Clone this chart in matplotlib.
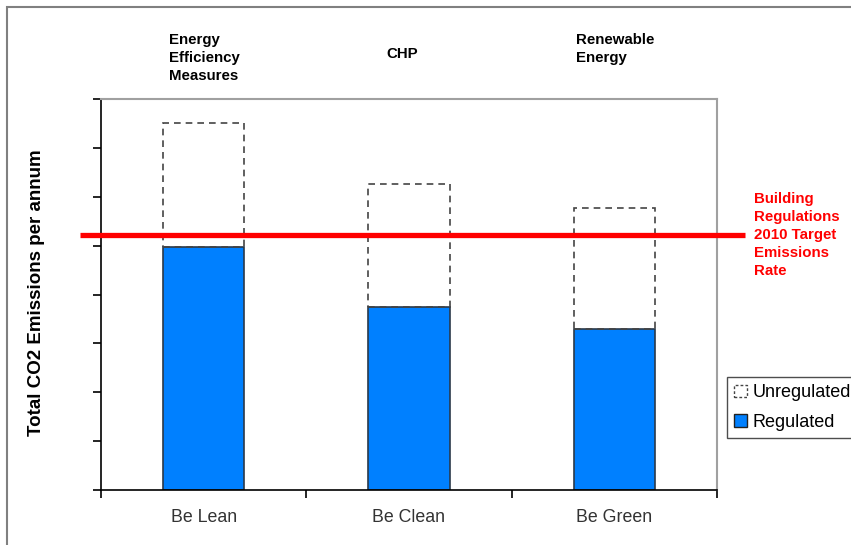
import matplotlib.pyplot as plt
from matplotlib.patches import Patch, Rectangle
from matplotlib.transforms import blended_transform_factory

plt.rcParams['font.family'] = ['Liberation Sans', 'DejaVu Sans']

stages = ['Be Lean', 'Be Clean', 'Be Green']
measures = ['Energy\nEfficiency\nMeasures', 'CHP', 'Renewable\nEnergy']
regulated = [4.98, 3.75, 3.30]
unregulated = [2.52, 2.52, 2.46]
target = 5.22
target_label = 'Building\nRegulations\n2010 Target\nEmissions\nRate'

W, H = 851, 545
fig = plt.figure(figsize=(W / 100, H / 100), dpi=100)
ax = fig.add_axes([101 / W, 1 - 490 / H, 616 / W, 391 / H])

x = range(len(stages))
bw = 0.395
ax.bar(x, regulated, width=bw, color='#0080ff', edgecolor='#2b3a4a',
       linewidth=1.2, label='Regulated', zorder=2)
ax.bar(x, unregulated, width=bw, bottom=regulated, facecolor='none',
       edgecolor='#444444', linewidth=1.2, linestyle=(0, (4, 3)),
       label='Unregulated', zorder=2)

# target line runs past both sides of the plot area
tr = blended_transform_factory(ax.transAxes, ax.transData)
ax.plot([-0.034, 1.045], [target, target], color='#ff0000', lw=3.8,
        transform=tr, clip_on=False, zorder=4, solid_capstyle='butt')

ax.set_xlim(-0.5, 2.5)
ax.set_ylim(0, 8)
ax.set_yticks(range(0, 9))
ax.set_yticklabels([])
ax.tick_params(axis='y', direction='out', length=6, width=1.2, color='black')
ax.set_xticks([-0.5, 0.5, 1.5, 2.5])
ax.set_xticklabels([])
ax.set_xticks(list(x), minor=True)
ax.set_xticklabels(stages, minor=True, fontsize=12.8, color='#333333')
ax.tick_params(axis='x', which='major', direction='out', length=6,
               width=1.2, color='black')
ax.tick_params(axis='x', which='minor', length=0, pad=14)

for side in ['top', 'right']:
    ax.spines[side].set_color('#a0a0a0')
    ax.spines[side].set_linewidth(1.5)
for side in ['left', 'bottom']:
    ax.spines[side].set_color('black')
    ax.spines[side].set_linewidth(1.2)

fig.text(37 / W, 1 - 293 / H, 'Total CO2 Emissions per annum', rotation=90,
         ha='center', va='center', fontsize=13.5, fontweight='bold')

for xp, yp, txt in zip([169, 386, 576], [33, 47, 33], measures):
    fig.text(xp / W, 1 - yp / H, txt, ha='left', va='top', fontsize=10.8,
             fontweight='bold', linespacing=1.35)

fig.text(754 / W, 1 - 235 / H, target_label, ha='left', va='center',
         fontsize=10.8, fontweight='bold', color='#ff0000', linespacing=1.35)

handles = [Patch(facecolor='white', edgecolor='#444444', linestyle=(0, (2, 1.5)),
                 label='Unregulated'),
           Patch(facecolor='#0080ff', edgecolor='#222222', label='Regulated')]
fig.legend(handles=handles, loc='upper left',
           bbox_to_anchor=(727 / W, 1 - 377 / H), fontsize=13,
           frameon=True, fancybox=False, edgecolor='#222222',
           handlelength=0.7, handleheight=0.7, handletextpad=0.3,
           borderpad=0.4, labelspacing=0.7, borderaxespad=0)

# outer chart frame, cut off at right and bottom
fig.patches.append(Rectangle((7 / W, -0.1), 1.2, 1 - 7 / H + 0.1,
                             transform=fig.transFigure, fill=False,
                             edgecolor='#808080', linewidth=1.5))

fig.savefig('out.png', dpi=100)
